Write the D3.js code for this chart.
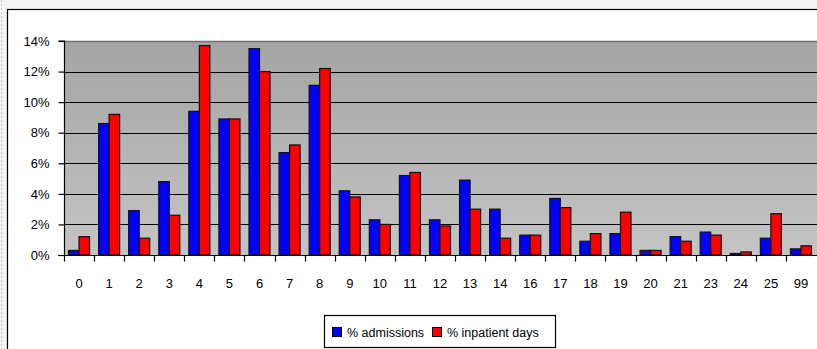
<!DOCTYPE html>
<html><head><meta charset="utf-8">
<script src="https://cdn.jsdelivr.net/npm/d3@7"></script>
<style>html,body{margin:0;padding:0;background:#fff;} svg{display:block;}</style>
</head><body>
<svg id="chart" width="817" height="349"></svg>
<script>
// Share of admissions and inpatient days by category code
const categories = ["0","1","2","3","4","5","6","7","8","9","10","11","12","13","14","16","17","18","19","20","21","23","24","25","99"];
const admissions = [0.3,8.6,2.9,4.8,9.4,8.9,13.5,6.7,11.1,4.2,2.3,5.2,2.3,4.9,3.0,1.3,3.7,0.9,1.4,0.3,1.2,1.5,0.1,1.1,0.4];
const inpatientDays = [1.2,9.2,1.1,2.6,13.7,8.9,12.0,7.2,12.2,3.8,2.0,5.4,1.9,3.0,1.1,1.3,3.1,1.4,2.8,0.3,0.9,1.3,0.2,2.7,0.6];
const yTicks = [0,2,4,6,8,10,12,14];
const seriesNames = ["% admissions","% inpatient days"];
const seriesColors = ["#0000ff","#ff0000"];

const svg = d3.select("#chart");
const font = "'Liberation Sans', Arial, sans-serif";

// page background and chart frame
svg.append("rect").attr("width",817).attr("height",349).attr("fill","#f3f3f3");
svg.append("line").attr("x1",1.5).attr("x2",1.5).attr("y1",0).attr("y2",349)
  .attr("stroke","#c8c8c8").attr("stroke-dasharray","2,2");
svg.append("rect").attr("x",7.5).attr("y",9.5).attr("width",830).attr("height",360)
  .attr("fill","#fff").attr("stroke","#000").attr("stroke-width",1.2);

const plot = {left:64, right:816, top:41, bottom:255};
const x = d3.scaleBand().domain(categories).range([plot.left, plot.right]).paddingInner(0).paddingOuter(0);
const xs = d3.scaleBand().domain(seriesNames).range([0, x.bandwidth()]).paddingInner(0).paddingOuter(0.43);
const y = d3.scaleLinear().domain([0,14]).range([plot.bottom, plot.top]);

// plot area gradient
const defs = svg.append("defs");
const grad = defs.append("linearGradient").attr("id","bg").attr("x1",0).attr("y1",0).attr("x2",0).attr("y2",1);
grad.append("stop").attr("offset","0%").attr("stop-color","#a4a4a4");
grad.append("stop").attr("offset","100%").attr("stop-color","#c4c4c4");
svg.append("rect").attr("x",plot.left).attr("y",plot.top)
  .attr("width",plot.right-plot.left+2).attr("height",plot.bottom-plot.top).attr("fill","url(#bg)");

// horizontal gridlines
svg.append("g").selectAll("line").data(yTicks.filter(d=>d>0 && d<14)).join("line")
  .attr("x1",plot.left).attr("x2",817)
  .attr("y1",d=>Math.round(y(d))+0.5).attr("y2",d=>Math.round(y(d))+0.5)
  .attr("stroke","#000").attr("stroke-width",1.2);
svg.append("line").attr("x1",plot.left).attr("x2",817)
  .attr("y1",plot.top+0.5).attr("y2",plot.top+0.5).attr("stroke","#707070").attr("stroke-width",1.5);

// bars
const rows = categories.map((c,i)=>({cat:c, vals:[admissions[i], inpatientDays[i]]}));
const groups = svg.append("g").selectAll("g").data(rows).join("g")
  .attr("transform",d=>`translate(${x(d.cat)},0)`);
groups.selectAll("rect").data(d=>d.vals.map((v,j)=>({v, s:seriesNames[j], c:seriesColors[j]}))).join("rect")
  .attr("x",d=>xs(d.s)).attr("width",xs.bandwidth())
  .attr("y",d=>y(d.v)).attr("height",d=>y(0)-y(d.v))
  .attr("fill",d=>d.c).attr("stroke","#111").attr("stroke-width",1.2);

// y axis
const yAxis = svg.append("g").attr("transform",`translate(${plot.left+0.5},0)`)
  .call(d3.axisLeft(y).tickValues(yTicks).tickFormat(d=>d+"%").tickSize(6).tickPadding(9));
yAxis.select(".domain").attr("stroke","#000").attr("stroke-width",1.2).attr("d",`M-6,${plot.top}H0V${plot.bottom}`);
yAxis.selectAll(".tick line").attr("stroke","#000").attr("stroke-width",1.2);
yAxis.selectAll("text").attr("font-family",font).attr("font-size",13).attr("fill","#000");

// x axis: labels centred on categories, ticks on category boundaries
const xAxis = svg.append("g").attr("transform",`translate(0,${plot.bottom+0.5})`)
  .call(d3.axisBottom(x).tickSize(0).tickPadding(23));
xAxis.select(".domain").remove();
xAxis.selectAll("text").attr("font-family",font).attr("font-size",13).attr("fill","#000");
xAxis.append("line").attr("x1",plot.left-6).attr("x2",817).attr("stroke","#000").attr("stroke-width",1.2);
const bounds = categories.map(c=>x(c));
xAxis.selectAll(".bound").data(bounds).join("line").attr("class","bound")
  .attr("x1",d=>Math.round(d)+0.5).attr("x2",d=>Math.round(d)+0.5).attr("y1",0).attr("y2",6)
  .attr("stroke","#000").attr("stroke-width",1.2);

// legend
const legend = svg.append("g");
legend.append("rect").attr("x",324.5).attr("y",315.5).attr("width",231).attr("height",32)
  .attr("fill","#fff").attr("stroke","#000").attr("stroke-width",1.2);
const legendX = [332, 432];
seriesNames.forEach((s,i)=>{
  legend.append("rect").attr("x",legendX[i]+0.5).attr("y",327.5).attr("width",9).attr("height",9)
    .attr("fill",seriesColors[i]).attr("stroke","#000").attr("stroke-width",1);
  legend.append("text").attr("x",legendX[i]+15).attr("y",336.5).text(s)
    .attr("font-family",font).attr("font-size",12.5).attr("fill","#000");
});
</script>
</body></html>
